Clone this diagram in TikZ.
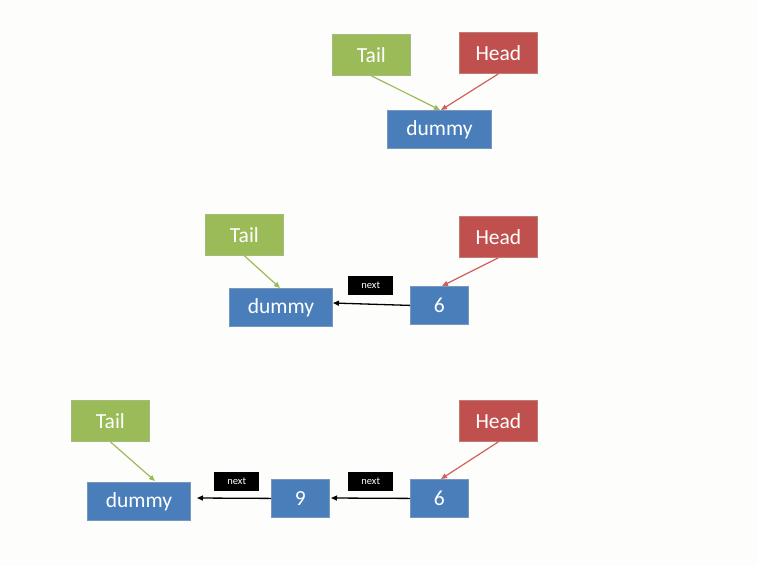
\documentclass[tikz,border=0pt]{standalone}
\usepackage{fontspec}
\setmainfont{Carlito}
\usetikzlibrary{arrows.meta}
\definecolor{bg}{HTML}{FDFEFC}
\definecolor{tailc}{HTML}{9BBB59}
\definecolor{tailb}{HTML}{7F9E45}
\definecolor{headc}{HTML}{C0504D}
\definecolor{headb}{HTML}{A04341}
\definecolor{nodec}{HTML}{4A7EBB}
\definecolor{nodeb}{HTML}{3E6A9E}
\definecolor{tarr}{HTML}{9BBB59}
\definecolor{harr}{HTML}{D0605D}
\tikzset{
  box/.style={draw, line width=0.8pt, anchor=north west, inner sep=0pt, text=white, font=\fontsize{21.5}{24}\selectfont},
  tailbox/.style={box, fill=tailc, draw=tailb!70, minimum width=78pt, minimum height=41pt},
  headbox/.style={box, fill=headc, draw=headb!70, minimum width=78pt, minimum height=41pt},
  listbox/.style={box, fill=nodec, draw=nodeb!70, minimum height=38pt},
  nextlbl/.style={fill=black, text=white, anchor=north west, inner sep=0pt, minimum width=45pt, minimum height=19pt, font=\fontsize{10.5}{12}\selectfont},
  tarrow/.style={draw=tarr, line width=1.2pt, -{Triangle[length=6pt,width=5pt]}},
  harrow/.style={draw=harr, line width=1.2pt, -{Triangle[length=6pt,width=5pt]}},
  narrow/.style={draw=black, line width=1.3pt, -{Triangle[length=6pt,width=5pt]}}
}
\begin{document}
\begin{tikzpicture}[x=1pt,y=-1pt]
\fill[bg] (0,0) rectangle (757,566);
\useasboundingbox (0,0) rectangle (757,566);
% top
\node[tailbox] (t1) at (332,34) {Tail};
\node[headbox] (h1) at (459,32) {Head};
\node[listbox, minimum width=104pt] (d1) at (387,110) {dummy};
\coordinate (d1t) at (440,110);
\coordinate (d1h) at (441,110);
\draw[tarrow] (t1.south) -- (d1t);
\draw[harrow] (h1.south) -- (d1h);
% middle
\node[tailbox] (t2) at (205,214) {Tail};
\node[headbox] (h2) at (459,216) {Head};
\node[listbox, minimum width=103pt] (d2) at (229,288) {dummy};
\node[listbox, minimum width=58pt] (s2) at (410,286) {6};
\node[nextlbl] (n2) at (348,276) {next};
\coordinate (d2t) at (280,288);
\coordinate (s2h) at (442,286);
\draw[tarrow] (t2.south) -- (d2t);
\draw[harrow] (h2.south) -- (s2h);
\coordinate (d2e) at (333,303);
\draw[narrow] (s2.west) -- (d2e);
% bottom
\node[tailbox] (t3) at (71,400) {Tail};
\node[headbox] (h3) at (459,400) {Head};
\node[listbox, minimum width=103pt] (d3) at (87,482) {dummy};
\node[listbox, minimum width=58pt] (n9) at (271,479) {9};
\node[listbox, minimum width=58pt] (s3) at (410,479) {6};
\node[nextlbl] (na) at (214,472) {next};
\node[nextlbl] (nb) at (348,472) {next};
\coordinate (d3t) at (155,481);
\coordinate (s3h) at (441,479);
\draw[tarrow] (t3.south) -- (d3t);
\draw[harrow] (h3.south) -- (s3h);
\coordinate (d3e) at (197,498);
\coordinate (n9e) at (331,498);
\draw[narrow] (n9.west) -- (d3e);
\draw[narrow] (s3.west) -- (n9e);
\end{tikzpicture}
\end{document}
